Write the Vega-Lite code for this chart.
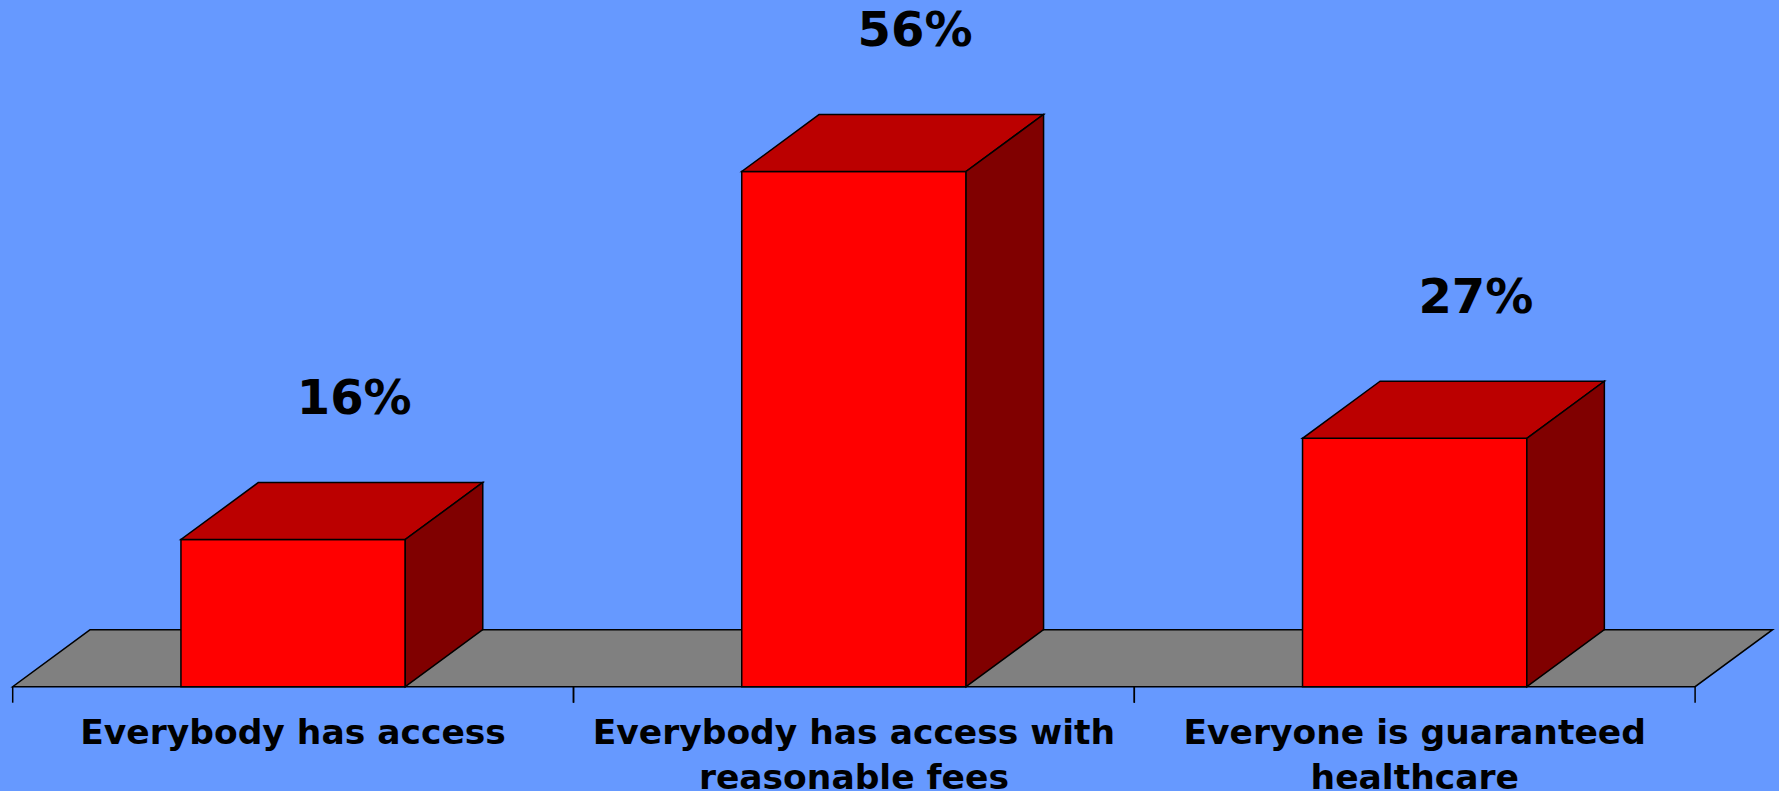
{
  "$schema": "https://vega.github.io/schema/vega-lite/v6.json",
  "width": 1779,
  "height": 791,
  "padding": 0,
  "autosize": "none",
  "background": "#6699FF",
  "config": {"view": {"stroke": null}},
  "datasets": {
    "bars": [
      {"answer": "Everybody has access", "pct": 16},
      {"answer": "Everybody has access with\nreasonable fees", "pct": 56},
      {"answer": "Everyone is guaranteed\nhealthcare", "pct": 27}
    ]
  },
  "data": {"name": "bars"},
  "transform": [
    {"window": [{"op": "row_number", "as": "rn"}]},
    {"calculate": "datum.rn - 1", "as": "i"},
    {"calculate": "0", "as": "base"},
    {"calculate": "-1.74", "as": "tickEnd"},
    {"calculate": "-6.26", "as": "labelY"}
  ],
  "layer": [
    {
      "transform": [
        {"aggregate": [{"op": "count", "as": "n"}]},
        {"calculate": "[0, 1]", "as": "k"},
        {"flatten": ["k"]},
        {"calculate": "datum.k * 0.1382", "as": "fx0"},
        {"calculate": "datum.n + datum.k * 0.1382", "as": "fx1"},
        {"calculate": "datum.k * 6.2", "as": "fy"}
      ],
      "mark": {"type": "area", "orient": "horizontal", "fill": "#808080", "stroke": "#000000", "strokeWidth": 1.5, "strokeJoin": "miter"},
      "encoding": {
        "y": {"field": "fy", "type": "quantitative", "axis": null, "scale": {"domain": [-11.337, 74.641], "nice": false, "zero": false}},
        "x": {"field": "fx0", "type": "quantitative", "axis": null, "scale": {"domain": [-0.02265, 3.14961], "nice": false, "zero": false}},
        "x2": {"field": "fx1"}
      }
    },
    {
      "transform": [
        {"calculate": "datum.i + 0.3", "as": "xl"},
        {"calculate": "datum.i + 0.7", "as": "xr"}
      ],
      "mark": {"type": "rect", "fill": "#FF0000", "stroke": "#000000", "strokeWidth": 1.5},
      "encoding": {
        "x": {"field": "xl", "type": "quantitative", "axis": null, "scale": {"domain": [-0.02265, 3.14961], "nice": false, "zero": false}},
        "x2": {"field": "xr"},
        "y": {"field": "base", "type": "quantitative", "axis": null, "scale": {"domain": [-11.337, 74.641], "nice": false, "zero": false}},
        "y2": {"field": "pct"}
      }
    },
    {
      "transform": [
        {"calculate": "[0, 1]", "as": "k"},
        {"flatten": ["k"]},
        {"calculate": "datum.i + 0.3 + datum.k * 0.1382", "as": "tx0"},
        {"calculate": "datum.i + 0.7 + datum.k * 0.1382", "as": "tx1"},
        {"calculate": "datum.pct + datum.k * 6.2", "as": "ty"}
      ],
      "mark": {"type": "area", "orient": "horizontal", "fill": "#BB0000", "stroke": "#000000", "strokeWidth": 1.5, "strokeJoin": "miter"},
      "encoding": {
        "y": {"field": "ty", "type": "quantitative", "axis": null, "scale": {"domain": [-11.337, 74.641], "nice": false, "zero": false}},
        "x": {"field": "tx0", "type": "quantitative", "axis": null, "scale": {"domain": [-0.02265, 3.14961], "nice": false, "zero": false}},
        "x2": {"field": "tx1"},
        "detail": {"field": "answer", "type": "nominal"}
      }
    },
    {
      "transform": [
        {"calculate": "[0, 1]", "as": "k"},
        {"flatten": ["k"]},
        {"calculate": "datum.i + 0.7 + datum.k * 0.1382", "as": "sx"},
        {"calculate": "datum.k * 6.2", "as": "sy0"},
        {"calculate": "datum.pct + datum.k * 6.2", "as": "sy1"}
      ],
      "mark": {"type": "area", "orient": "vertical", "fill": "#800000", "stroke": "#000000", "strokeWidth": 1.5, "strokeJoin": "miter"},
      "encoding": {
        "x": {"field": "sx", "type": "quantitative", "axis": null, "scale": {"domain": [-0.02265, 3.14961], "nice": false, "zero": false}},
        "y": {"field": "sy0", "type": "quantitative", "axis": null, "scale": {"domain": [-11.337, 74.641], "nice": false, "zero": false}},
        "y2": {"field": "sy1"},
        "detail": {"field": "answer", "type": "nominal"}
      }
    },
    {
      "mark": {"type": "rule", "stroke": "#000000", "strokeWidth": 1.5},
      "encoding": {
        "x": {"field": "i", "type": "quantitative", "axis": null, "scale": {"domain": [-0.02265, 3.14961], "nice": false, "zero": false}},
        "y": {"field": "base", "type": "quantitative", "axis": null, "scale": {"domain": [-11.337, 74.641], "nice": false, "zero": false}},
        "y2": {"field": "tickEnd"}
      }
    },
    {
      "transform": [{"calculate": "datum.i + 1", "as": "ie"}],
      "mark": {"type": "rule", "stroke": "#000000", "strokeWidth": 1.5},
      "encoding": {
        "x": {"field": "ie", "type": "quantitative", "axis": null, "scale": {"domain": [-0.02265, 3.14961], "nice": false, "zero": false}},
        "y": {"field": "base", "type": "quantitative", "axis": null, "scale": {"domain": [-11.337, 74.641], "nice": false, "zero": false}},
        "y2": {"field": "tickEnd"}
      }
    },
    {
      "transform": [
        {"calculate": "datum.i + 0.609", "as": "lx"},
        {"calculate": "datum.pct + 13.66", "as": "ly"},
        {"calculate": "datum.pct + '%'", "as": "plabel"}
      ],
      "mark": {"type": "text", "font": "DejaVu Sans", "fontWeight": "bold", "fontSize": 48, "align": "center", "baseline": "alphabetic", "color": "#000000"},
      "encoding": {
        "x": {"field": "lx", "type": "quantitative", "axis": null, "scale": {"domain": [-0.02265, 3.14961], "nice": false, "zero": false}},
        "y": {"field": "ly", "type": "quantitative", "axis": null, "scale": {"domain": [-11.337, 74.641], "nice": false, "zero": false}},
        "text": {"field": "plabel", "type": "nominal"}
      }
    },
    {
      "transform": [
        {"calculate": "datum.i + 0.5", "as": "cx"}
      ],
      "mark": {"type": "text", "font": "DejaVu Sans", "fontWeight": "bold", "fontSize": 34.5, "lineHeight": 45, "lineBreak": "\n", "align": "center", "baseline": "alphabetic", "color": "#000000"},
      "encoding": {
        "x": {"field": "cx", "type": "quantitative", "axis": null, "scale": {"domain": [-0.02265, 3.14961], "nice": false, "zero": false}},
        "y": {"field": "labelY", "type": "quantitative", "axis": null, "scale": {"domain": [-11.337, 74.641], "nice": false, "zero": false}},
        "text": {"field": "answer", "type": "nominal"}
      }
    }
  ]
}
